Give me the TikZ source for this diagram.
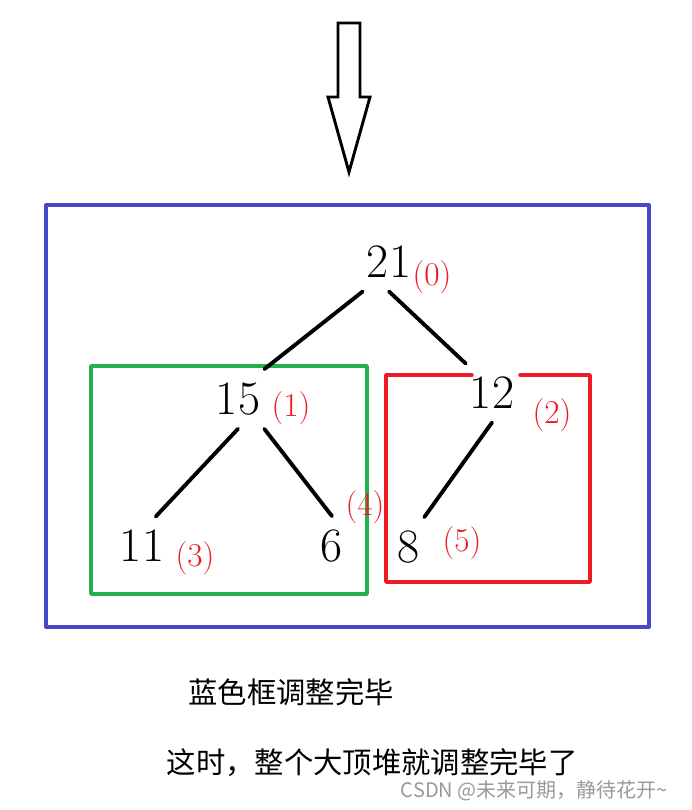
\documentclass[tikz,border=0pt]{standalone}
\usepackage{fontspec}
\newfontfamily\cjk{Noto Sans CJK SC}
\definecolor{framblue}{RGB}{68,72,204}
\definecolor{framgreen}{RGB}{34,177,76}
\definecolor{framred}{RGB}{237,28,36}
\tikzset{
  key/.style={font=\fontsize{36}{36}\selectfont, inner xsep=3pt, inner ysep=10pt},
  idx/.style={text=framred, font=\fontsize{25}{25}\selectfont, inner sep=0pt},
  edge/.style={line width=2.9pt},
}
\begin{document}
\begin{tikzpicture}[x=0.75pt, y=-0.75pt, line join=round, line cap=round]
    \useasboundingbox (0,0) rectangle (692,810);
    % down arrow
    \draw[line width=2.2pt, line cap=butt, line join=miter] (338,23) -- (360,23) -- (360,97) -- (370,97) -- (349,172) -- (328,97) -- (338,97) -- cycle;
    % frames
    \draw[framblue, line width=3pt] (46,205) rectangle (649,627);
    \draw[framgreen, line width=2.6pt] (91,366) rectangle (367,594);
    \draw[framred, line width=2.6pt] (472,375) -| (386,582) -| (590,375) -- (520,375);
    % heap
    \foreach \name/\val/\x/\y in {21/21/389/262, 15/15/238/399, 12/12/492/393, 11/11/142/546, 6/6/332/546, 8/8/409/547}
        \node[key] (n\name) at (\x,\y) {\val};
    \draw[edge] (n21.south west) -- (n15.north east);
    \draw[edge] (n21.south) -- (n12.north west);
    \draw[edge] (n15.south) -- (n11.65);
    \draw[edge] (n15.south east) -- (n6.north);
    \draw[edge] (n12.south) -- (n8.north east);
    \foreach \name/\i/\dx/\dy in {21/0/43/15, 15/1/53/9, 12/2/60/22, 11/3/53/12, 6/4/33/-39, 8/5/53/-4}
        \node[idx] (i\i) at ([shift={(\dx,\dy)}]n\name) {(\i)};
    % notes
    \node[font=\cjk\fontsize{22}{22}\selectfont] (note1) at (291,692) {蓝色框调整完毕};
    \node[font=\cjk\fontsize{22}{22}\selectfont] (note2) at (372,763) {这时，整个大顶堆就调整完毕了};
    \node[font=\cjk\fontsize{15}{15}\selectfont, text=black!40, anchor=east, inner sep=0pt] (mark) at (668,791) {CSDN @未来可期，静待花开\textasciitilde};
\end{tikzpicture}
\end{document}
